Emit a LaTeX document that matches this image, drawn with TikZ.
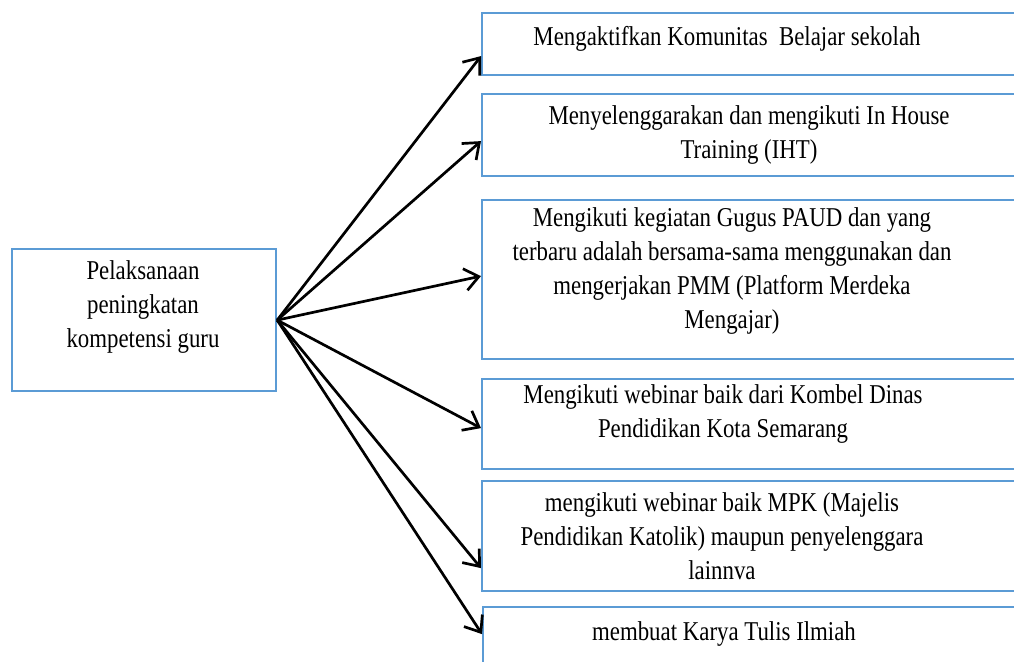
\documentclass[tikz,border=0pt]{standalone}
\usepackage{fontspec}
\setmainfont[FakeStretch=0.84]{Liberation Serif}
\usetikzlibrary{arrows.meta}
\definecolor{boxblue}{RGB}{91, 155, 213}

\begin{document}
\begin{tikzpicture}[x=0.5pt, y=-0.5pt,
    box/.style={draw=boxblue, line width=1.1pt, anchor=north west, inner sep=0},
    txt/.style={align=center, font=\fontsize{13.6}{17}\selectfont, inner sep=0},
    arrow/.style={-{Straight Barb[length=7pt, width=11pt]}, line width=1.35pt}]

  \useasboundingbox (0, 0) rectangle (1014, 661);
  \clip (0, 12.2) rectangle (1014, 661);

  % left box
  \node[box, minimum width=132pt, minimum height=71pt] (src) at (11, 248) {};
  \node[txt] (srctxt) at (143, 307) {Pelaksanaan\\peningkatan\\kompetensi guru};

  % right boxes
  \node[box, minimum width=300pt, minimum height=31pt] (b1) at (481, 12) {};
  \node[txt] (t1) at (727, 39) {Mengaktifkan Komunitas\ \ Belajar sekolah};

  \node[box, minimum width=300pt, minimum height=41pt] (b2) at (481, 93) {};
  \node[txt] (t2) at (749, 135) {Menyelenggarakan dan mengikuti In House\\Training (IHT)};

  \node[box, minimum width=300pt, minimum height=79.5pt] (b3) at (481, 199) {};
  \node[txt] (t3) at (732, 271) {Mengikuti kegiatan Gugus PAUD dan yang\\terbaru adalah bersama-sama menggunakan dan\\mengerjakan PMM (Platform Merdeka\\Mengajar)};

  \node[box, minimum width=300pt, minimum height=45pt] (b4) at (481, 378) {};
  \node[txt] (t4) at (723, 414) {Mengikuti webinar baik dari Kombel Dinas\\Pendidikan Kota Semarang};

  \node[box, minimum width=300pt, minimum height=55pt] (b5) at (481, 480) {};
  \node[txt] (t5) at (722, 536) {mengikuti webinar baik MPK (Majelis\\Pendidikan Katolik) maupun penyelenggara\\lainnva};

  \node[box, minimum width=300pt, minimum height=40pt] (b6) at (482, 606) {};
  \node[txt] (t6) at (724, 634) {membuat Karya Tulis Ilmiah};

  % arrows
  \foreach \b/\s in {b1/-6, b2/-3, b3/1.75, b4/-2, b5/-16, b6/6.5} {
    \draw[arrow] (src.east) -- ([yshift=\s pt]\b.west);
  }

\end{tikzpicture}
\end{document}
